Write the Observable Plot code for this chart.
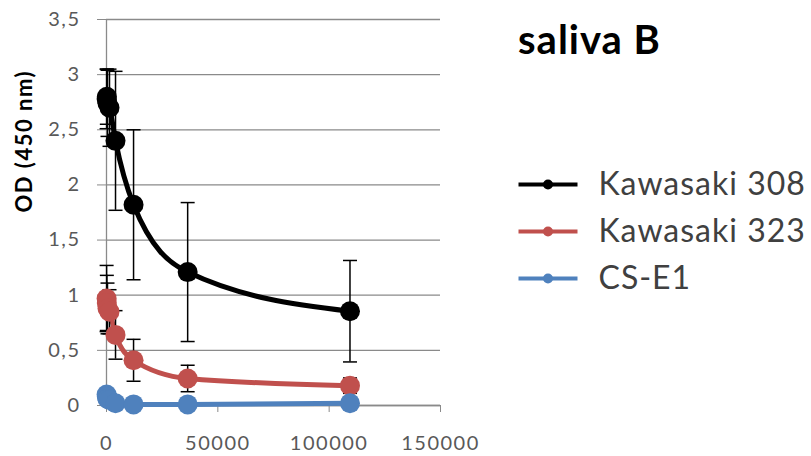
<!DOCTYPE html>
<html>
<head>
<meta charset="utf-8">
<script src="https://cdn.jsdelivr.net/npm/d3@7"></script>
<script src="https://cdn.jsdelivr.net/npm/@observablehq/plot@0.6"></script>
<style>
  html, body { margin: 0; padding: 0; background: #fff; }
  #wrap { position: relative; width: 811px; height: 456px; overflow: hidden; font-family: Lato, sans-serif; }
  #chart { position: absolute; left: 0; top: 0; }
  #title { position: absolute; left: 518px; top: 19px; font: bold 40px/40px Lato, sans-serif; letter-spacing: 1px; color: #000; white-space: nowrap; }
  #legend { position: absolute; left: 510px; top: 160px; }
</style>
</head>
<body>
<div id="wrap">
  <div id="chart"></div>
  <div id="title">saliva B</div>
  <div id="legend"></div>
</div>
<script>
// ---- data ----
const dilutions = [50, 150, 450, 1350, 4050, 12150, 36450, 109350];
const seriesNames = ["Kawasaki 308", "Kawasaki 323", "CS-E1"];
const k308 = [2.78, 2.8, 2.74, 2.7, 2.4, 1.82, 1.21, 0.855];
const k308Err = [0.27, 0.25, 0.3, 0.35, 0.63, 0.68, 0.63, 0.46];
const k323 = [0.97, 0.93, 0.88, 0.85, 0.64, 0.41, 0.245, 0.18];
const k323Err = [0.3, 0.25, 0.23, 0.2, 0.22, 0.19, 0.12, 0.07];
const cse1 = [0.1, 0.08, 0.06, 0.05, 0.02, 0.01, 0.01, 0.02];
const cse1Err = [0.03, 0.03, 0.02, 0.02, 0.01, 0.01, 0.01, 0.01];
const colors = ["#000000", "#C0504D", "#4F81BD"];
const xTicks = [0, 50000, 100000, 150000];
const yTicks = [0, 0.5, 1, 1.5, 2, 2.5, 3, 3.5];
const yLabel = "OD (450 nm)";
const titleText = "saliva B";

const values = [k308, k323, cse1];
const errors = [k308Err, k323Err, cse1Err];
const rows = seriesNames.flatMap((s, i) =>
  dilutions.map((x, j) => ({ series: s, x, y: values[i][j], err: errors[i][j] }))
);

const capSymbol = {
  draw(context, size) {
    const w = Math.sqrt(size / Math.PI);
    context.moveTo(-w, 0);
    context.lineTo(w, 0);
  }
};

const gridColor = "#8a8a8a";
const seriesMarks = seriesNames.flatMap((s) => {
  const data = rows.filter((d) => d.series === s);
  return [
    Plot.line(data, { x: "x", y: "y", stroke: "series", strokeWidth: 5, curve: "monotone-x" }),
    Plot.ruleX(data, { x: "x", y1: (d) => d.y - d.err, y2: (d) => d.y + d.err, stroke: "#000", strokeWidth: 1.5 }),
    Plot.dot(data, { x: "x", y: (d) => d.y + d.err, symbol: capSymbol, r: 7, stroke: "#000", strokeWidth: 1.5 }),
    Plot.dot(data, { x: "x", y: (d) => d.y - d.err, symbol: capSymbol, r: 7, stroke: "#000", strokeWidth: 1.5 }),
    Plot.dot(data, { x: "x", y: "y", r: 10, fill: "series", stroke: "none" })
  ];
});

const chart = Plot.plot({
  width: 811,
  height: 456,
  marginLeft: 106,
  marginRight: 371,
  marginTop: 19,
  marginBottom: 51,
  style: { fontFamily: "Lato, sans-serif", letterSpacing: "1.5px", background: "white", overflow: "visible" },
  x: { domain: [0, 150000] },
  y: { domain: [0, 3.5] },
  color: { domain: seriesNames, range: colors },
  marks: [
    Plot.gridY(yTicks, { stroke: gridColor, strokeOpacity: 1, strokeWidth: 1.3 }),
    Plot.ruleX([0], { stroke: gridColor, strokeWidth: 1.3 }),
    Plot.ruleY([0], { stroke: gridColor, strokeWidth: 1.3 }),
    Plot.axisY({ ticks: yTicks, tickSize: 9, tickPadding: 17, tickFormat: (d) => String(d).replace(".", ","), fontSize: 20, color: "#595959", stroke: gridColor, label: null }),
    Plot.axisX({ ticks: xTicks, tickSize: 7, tickPadding: 23, tickFormat: d3.format("d"), fontSize: 20, color: "#595959", stroke: gridColor, label: null }),
    Plot.text([yLabel], { frameAnchor: "left", rotate: -90, dx: -82, text: (d) => d, fontSize: 22, fontWeight: "bold", fill: "#000" }),
    ...seriesMarks
  ]
});
document.getElementById("chart").append(chart);
document.getElementById("title").textContent = titleText;

const legend = Plot.plot({
  width: 301,
  height: 141,
  marginLeft: 8,
  marginRight: 234,
  marginTop: 23,
  marginBottom: 23,
  style: { fontFamily: "Lato, sans-serif", letterSpacing: "1px", background: "transparent", overflow: "visible" },
  x: { domain: [0, 1], axis: null },
  y: { type: "point", domain: seriesNames, padding: 0, axis: null },
  color: { domain: seriesNames, range: colors },
  marks: [
    Plot.link(seriesNames, { x1: 0, x2: 1, y1: (d) => d, y2: (d) => d, stroke: (d) => d, strokeWidth: 4 }),
    Plot.dot(seriesNames, { x: 0.5, y: (d) => d, fill: (d) => d, r: 5 }),
    Plot.text(seriesNames, { x: 1, y: (d) => d, text: (d) => d, textAnchor: "start", dx: 21, fontSize: 32, fill: "#404040" })
  ]
});
document.getElementById("legend").append(legend);
</script>
</body>
</html>
